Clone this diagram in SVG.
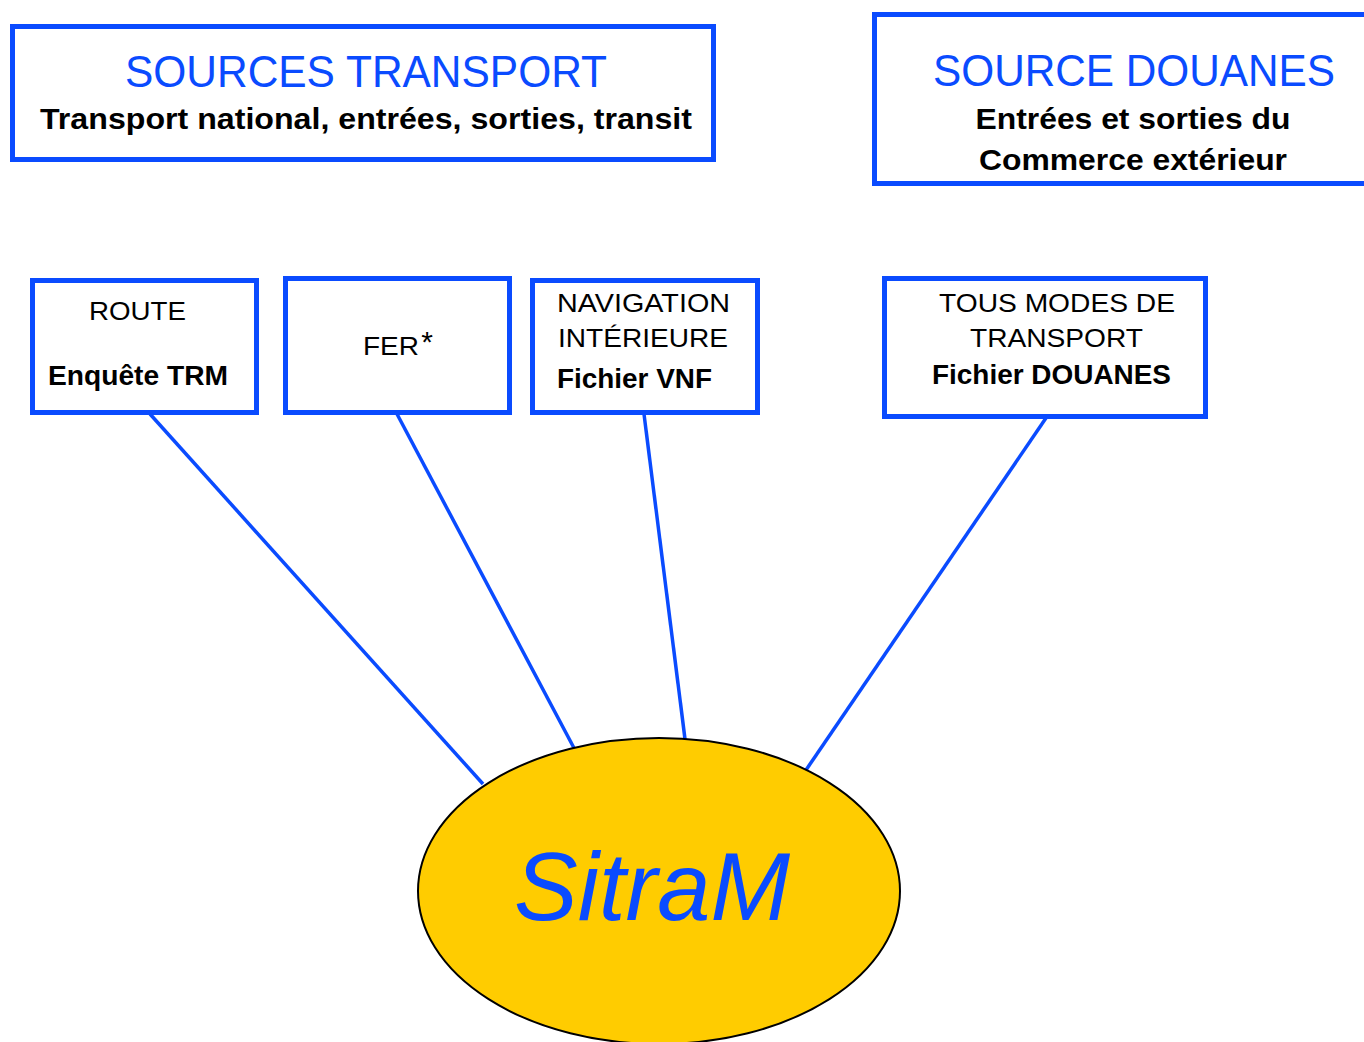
<svg xmlns="http://www.w3.org/2000/svg" width="1364" height="1042" viewBox="0 0 1364 1042">
<style>
.box{fill:#ffffff;stroke:#0a4bff;stroke-width:5}
.link{stroke:#0a4bff;stroke-width:3.5;fill:none}
text{font-family:"Liberation Sans",Arial,sans-serif}
.title{fill:#0a4bff;font-size:44px;text-anchor:middle}
.sub{fill:#000;font-size:30px;font-weight:bold;text-anchor:middle}
.lbl{fill:#000;font-size:26px;text-anchor:middle}
.lblb{fill:#000;font-size:27px;font-weight:bold;text-anchor:middle}
</style>
<g id="connectors">
<line class="link" x1="150" y1="414" x2="483" y2="784"/>
<line class="link" x1="397" y1="414" x2="574" y2="748"/>
<line class="link" x1="644" y1="414" x2="685" y2="739"/>
<line class="link" x1="1046" y1="418" x2="806" y2="770"/>
</g>
<g id="sources-transport">
<rect class="box" x="12.5" y="26.5" width="701" height="133"/>
<text class="title" x="366" y="87" textLength="482" lengthAdjust="spacingAndGlyphs">SOURCES TRANSPORT</text>
<text class="sub" x="366" y="129" textLength="652" lengthAdjust="spacingAndGlyphs">Transport national, entrées, sorties, transit</text>
</g>
<g id="source-douanes">
<rect class="box" x="874.5" y="14.5" width="500" height="169"/>
<text class="title" x="1134" y="86" textLength="402" lengthAdjust="spacingAndGlyphs">SOURCE DOUANES</text>
<text class="sub" x="1133" y="129" textLength="315" lengthAdjust="spacingAndGlyphs">Entrées et sorties du</text>
<text class="sub" x="1133" y="170" textLength="308" lengthAdjust="spacingAndGlyphs">Commerce extérieur</text>
</g>
<g id="route">
<rect class="box" x="32.5" y="280.5" width="224" height="132"/>
<text class="lbl" x="137.5" y="320" textLength="97" lengthAdjust="spacingAndGlyphs">ROUTE</text>
<text class="lblb" x="138" y="385" textLength="180" lengthAdjust="spacingAndGlyphs">Enquête TRM</text>
</g>
<g id="fer">
<rect class="box" x="285.5" y="278.5" width="224" height="134"/>
<text class="lbl" x="391" y="355" textLength="56" lengthAdjust="spacingAndGlyphs">FER</text>
<text x="427" y="352" style="font-size:30px;fill:#000;text-anchor:middle">*</text>
</g>
<g id="navigation">
<rect class="box" x="532.5" y="280.5" width="225" height="132"/>
<text class="lbl" x="643.5" y="312" textLength="173" lengthAdjust="spacingAndGlyphs">NAVIGATION</text>
<text class="lbl" x="643" y="347" textLength="170" lengthAdjust="spacingAndGlyphs">INTÉRIEURE</text>
<text class="lblb" x="634.5" y="388" textLength="155" lengthAdjust="spacingAndGlyphs">Fichier VNF</text>
</g>
<g id="tous-modes">
<rect class="box" x="884.5" y="278.5" width="321" height="138"/>
<text class="lbl" x="1057" y="312" textLength="236" lengthAdjust="spacingAndGlyphs">TOUS MODES DE</text>
<text class="lbl" x="1056.5" y="347" textLength="173" lengthAdjust="spacingAndGlyphs">TRANSPORT</text>
<text class="lblb" x="1051.5" y="384" textLength="239" lengthAdjust="spacingAndGlyphs">Fichier DOUANES</text>
</g>
<g id="sitram">
<ellipse cx="659" cy="891" rx="241" ry="153" fill="#ffcc00" stroke="#000" stroke-width="2"/>
<text x="652" y="920" style="font-size:96px;font-style:italic;fill:#0a4bff;text-anchor:middle" textLength="276" lengthAdjust="spacingAndGlyphs">SitraM</text>
</g>
</svg>
